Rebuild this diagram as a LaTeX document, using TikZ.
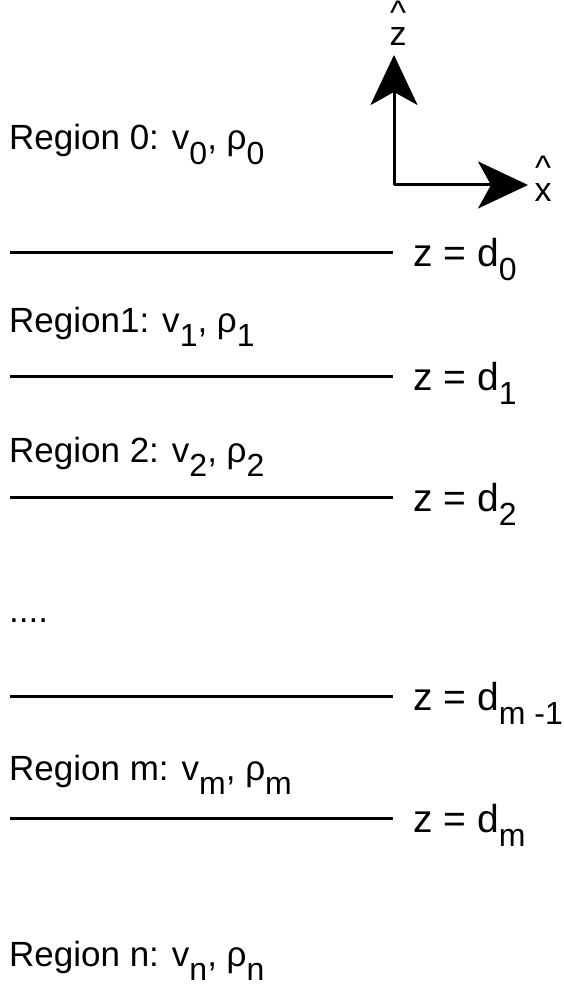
\documentclass[tikz,border=0pt]{standalone}
\usepackage{fontspec}
\setmainfont{Liberation Sans}
\usetikzlibrary{arrows.meta}
\newcommand\sbs[1]{\raisebox{-14pt}{\fontsize{32}{32}\selectfont #1}}
\newcommand\hatted[1]{\begin{tabular}[b]{@{}c@{}}\^{}\\[-13pt]#1\end{tabular}}
\tikzset{
  lbl/.style={anchor=base west, inner sep=0pt, font=\fontsize{35}{35}\selectfont},
  zlbl/.style={anchor=base west, inner sep=0pt, font=\fontsize{39}{39}\selectfont},
  axlbl/.style={anchor=base, inner sep=0pt, font=\fontsize{34}{34}\selectfont},
  layer/.style={line width=3pt},
  axis/.style={line width=3pt, -{Stealth[length=50pt,width=47pt,inset=13pt]}},
}
\begin{document}
\begin{tikzpicture}[x=1pt,y=-1pt]
\useasboundingbox (0,0) rectangle (563,987);
% axes
\coordinate (o) at (394,185);
\coordinate (zt) at (394,55);
\coordinate (xt) at (528,185);
\draw[axis] (o) -- (zt);
\draw[axis] (o) -- (xt);
\node[axlbl] (zl) at (398,46) {\hatted{z}};
\node[axlbl] (xl) at (543,201) {\hatted{x}};
% region labels
\node[lbl] (r0) at (9,150) {Region 0: v\sbs{0}, ρ\sbs{0}};
\node[lbl] (r1) at (9,332) {Region1: v\sbs{1}, ρ\sbs{1}};
\node[lbl] (r2) at (9,462) {Region 2: v\sbs{2}, ρ\sbs{2}};
\node[lbl] (dots) at (9,622) {....};
\node[lbl] (rm) at (9,780) {Region m: v\sbs{m}, ρ\sbs{m}};
\node[lbl] (rn) at (9,966) {Region n: v\sbs{n}, ρ\sbs{n}};
% interfaces
\foreach \n/\y/\t in {0/252/0, 1/376/1, 2/497/2, 3/696/{m -1}, 4/818/m}{
  \coordinate (a\n) at (10,\y);
  \coordinate (b\n) at (393,\y);
  \draw[layer] (a\n) -- (b\n);
  \node[zlbl] (d\n) at (413,\y+14) {z = d\sbs{\t}};
}
\end{tikzpicture}
\end{document}
